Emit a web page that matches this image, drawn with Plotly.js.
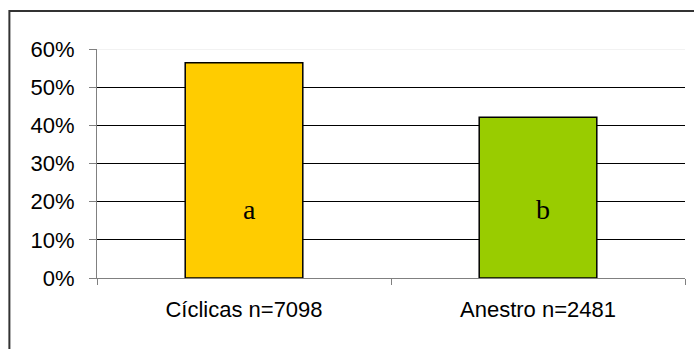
<!DOCTYPE html>
<html>
<head>
<meta charset="utf-8">
<script src="https://cdn.plot.ly/plotly-3.0.1.min.js"></script>
<style>
  html, body { margin: 0; padding: 0; background: #fff; }
  #chart { width: 694px; height: 349px; }
</style>
</head>
<body>
<div id="chart"></div>
<script>
// Share of cows by reproductive status
const categories = ['Cíclicas n=7098', 'Anestro n=2481'];
const values = [0.564, 0.421];
const letters = ['a', 'b'];
const barColors = ['#FFCC00', '#99CC00'];
const yTicks = [0, 0.1, 0.2, 0.3, 0.4, 0.5, 0.6];
const yTickText = ['0%', '10%', '20%', '30%', '40%', '50%', '60%'];
const letterLevel = 0.18;

const trace = {
  type: 'bar',
  x: categories,
  y: values,
  marker: { color: barColors, line: { color: '#000', width: 1.5 } },
  hoverinfo: 'skip'
};

const labelFont = { family: 'Liberation Sans, Arial, sans-serif', size: 22, color: '#000' };

const layout = {
  width: 694,
  height: 349,
  margin: { l: 97, r: 9, t: 49, b: 71 },
  paper_bgcolor: '#fff',
  plot_bgcolor: '#fff',
  showlegend: false,
  bargap: 0.6,
  font: labelFont,
  xaxis: {
    type: 'category',
    showline: true,
    linecolor: '#808080',
    linewidth: 1,
    ticks: 'outside',
    tickson: 'boundaries',
    ticklen: 6,
    tickcolor: '#808080',
    showgrid: false,
    zeroline: false,
    ticklabelstandoff: 12,
    tickfont: labelFont
  },
  yaxis: {
    range: [0, 0.6],
    tickvals: yTicks,
    ticktext: yTickText,
    showline: true,
    linecolor: '#808080',
    linewidth: 1,
    ticks: 'outside',
    ticklen: 7,
    tickcolor: '#808080',
    showgrid: true,
    gridcolor: '#000',
    gridwidth: 1,
    zeroline: false,
    ticklabelstandoff: 10,
    tickfont: labelFont
  },
  annotations: categories.map((c, i) => ({
    x: c,
    y: letterLevel,
    xref: 'x',
    yref: 'y',
    xshift: 5,
    text: letters[i],
    showarrow: false,
    font: { family: 'Liberation Serif, Times New Roman, serif', size: 28, color: '#000' }
  })),
  shapes: [
    // light top gridline at 60%
    { type: 'line', xref: 'paper', yref: 'y', x0: 0, x1: 1, y0: 0.6, y1: 0.6,
      line: { color: '#e6e6e6', width: 1 }, layer: 'above' },
    // outer frame of the chart area
    { type: 'rect', xref: 'paper', yref: 'paper',
      x0: -0.149, x1: 1.2, y0: -0.6, y1: 1.166,
      line: { color: '#333', width: 2 }, fillcolor: 'rgba(0,0,0,0)', layer: 'below' }
  ]
};

Plotly.newPlot('chart', [trace], layout, { displayModeBar: false, staticPlot: true });
</script>
</body>
</html>
